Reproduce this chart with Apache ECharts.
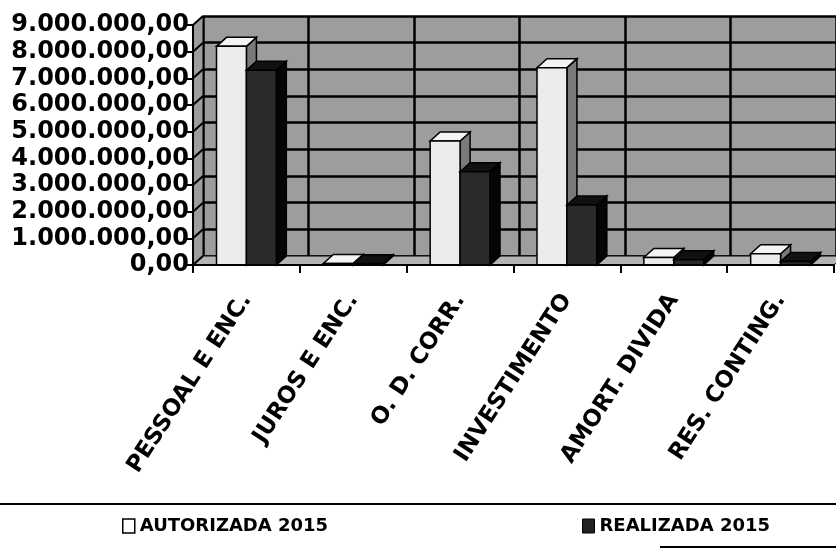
<!DOCTYPE html>
<html>
<head>
<meta charset="utf-8">
<script src="https://cdn.jsdelivr.net/npm/echarts@6/dist/echarts.min.js"></script>
<style>
html,body{margin:0;padding:0;background:#fff;}
#chart{width:836px;height:548px;}
</style>
</head>
<body>
<div id="chart"></div>
<script>
// ---- data ----
var categories = ['PESSOAL E ENC.', 'JUROS E ENC.', 'O. D. CORR.', 'INVESTIMENTO', 'AMORT. DIVIDA', 'RES. CONTING.'];
var autorizada2015 = [8200000, 60000, 4650000, 7400000, 280000, 420000];
var realizada2015 = [7300000, 50000, 3500000, 2250000, 200000, 130000];
var yTicks = [0, 1000000, 2000000, 3000000, 4000000, 5000000, 6000000, 7000000, 8000000, 9000000];
var seriesNames = ['AUTORIZADA 2015', 'REALIZADA 2015'];

// ---- styling / geometry ----
var DX = 10, DY = -9;          // 3D depth offset
var FONT = 'DejaVu Sans';
var WALL = '#9d9d9d';

function fmtBR(v) {
  return Math.round(v).toString().replace(/\B(?=(\d{3})+(?!\d))/g, '.') + ',00';
}

function boxRender(isFirst, colors) {
  return function (params, api) {
    var idx = api.value(0), val = api.value(1);
    var top = api.coord([idx, val]);
    var base = api.coord([idx, 0]);
    var band = api.size([1, 0])[0];
    var w = band * 0.28;
    var x0 = isFirst ? top[0] - w : top[0];
    var x1 = x0 + w;
    var yT = top[1], yB = base[1];
    var stroke = {stroke: '#000', lineWidth: 1.5};
    return {
      type: 'group',
      children: [
        {type: 'polygon', shape: {points: [[x1, yT], [x1, yB], [x1 + DX, yB + DY], [x1 + DX, yT + DY]]},
          style: Object.assign({fill: colors.side}, stroke)},
        {type: 'polygon', shape: {points: [[x0, yT], [x1, yT], [x1 + DX, yT + DY], [x0 + DX, yT + DY]]},
          style: Object.assign({fill: colors.top}, stroke)},
        {type: 'rect', shape: {x: x0, y: yT, width: w, height: yB - yT},
          style: Object.assign({fill: colors.front}, stroke)}
      ]
    };
  };
}

var chart = echarts.init(document.getElementById('chart'));
var option = {
  backgroundColor: '#ffffff',
  animation: false,
  grid: [
    {left: 193, right: 2, top: 25, bottom: 283},
    {left: 193 + DX, right: 2 - DX, top: 25 + DY, bottom: 283 - DY, show: true, backgroundColor: WALL, borderWidth: 0}
  ],
  xAxis: [
    {
      type: 'category', gridIndex: 0, data: categories,
      axisLine: {show: true, lineStyle: {color: '#000', width: 2}},
      axisTick: {show: true, interval: 0, length: 8, lineStyle: {color: '#000', width: 2}},
      axisLabel: {interval: 0, rotate: 57, margin: 31, color: '#000', fontFamily: FONT, fontWeight: 'bold', fontSize: 23},
      splitLine: {show: false}, z: 5
    },
    {
      type: 'category', gridIndex: 1, data: categories,
      axisLine: {show: false}, axisTick: {show: false, interval: 0}, axisLabel: {show: false, interval: 0},
      splitLine: {show: true, interval: 0, lineStyle: {color: '#000', width: 2.5}}
    }
  ],
  yAxis: [
    {
      type: 'value', gridIndex: 0, min: 0, max: 9000000, interval: 1000000,
      axisLine: {show: true, lineStyle: {color: '#000', width: 2}},
      axisTick: {show: true, length: 8, lineStyle: {color: '#000', width: 2}},
      axisLabel: {formatter: fmtBR, margin: 4, color: '#000', fontFamily: FONT, fontWeight: 'bold', fontSize: 24},
      splitLine: {show: false}, z: 5
    },
    {
      type: 'value', gridIndex: 1, min: 0, max: 9000000, interval: 1000000,
      axisLine: {show: false}, axisTick: {show: false}, axisLabel: {show: false},
      splitLine: {show: true, lineStyle: {color: '#000', width: 2.5}}
    }
  ],
  legend: [
    {
      left: 122, top: 517, padding: 0, itemWidth: 12, itemHeight: 14, itemGap: 4, selectedMode: false,
      data: [{name: seriesNames[0], icon: 'rect', itemStyle: {color: '#fff', borderColor: '#000', borderWidth: 1.5}}],
      textStyle: {color: '#000', fontFamily: FONT, fontWeight: 'bold', fontSize: 18}
    },
    {
      left: 582, top: 517, padding: 0, itemWidth: 12, itemHeight: 14, itemGap: 4, selectedMode: false,
      data: [{name: seriesNames[1], icon: 'rect', itemStyle: {color: '#222', borderColor: '#000', borderWidth: 1}}],
      textStyle: {color: '#000', fontFamily: FONT, fontWeight: 'bold', fontSize: 18}
    }
  ],
  graphic: [
    {type: 'line', shape: {x1: 0, y1: 504, x2: 836, y2: 504}, style: {stroke: '#000', lineWidth: 2}},
    {type: 'line', shape: {x1: 660, y1: 547, x2: 836, y2: 547}, style: {stroke: '#000', lineWidth: 2}}
  ],
  series: [
    {
      type: 'custom', xAxisIndex: 0, yAxisIndex: 0, silent: true, z: 1,
      data: [[0, 0]],
      renderItem: function (params, api) {
        var cs = params.coordSys;
        var x = cs.x, y = cs.y, w = cs.width, h = cs.height;
        var children = [
          {type: 'polygon', shape: {points: [[x, y + h], [x + w, y + h], [x + w + DX, y + h + DY], [x + DX, y + h + DY]]},
            style: {fill: '#b4b4b4', stroke: '#000', lineWidth: 1}},
          {type: 'polygon', shape: {points: [[x, y + h], [x, y], [x + DX, y + DY], [x + DX, y + h + DY]]},
            style: {fill: WALL, stroke: '#000', lineWidth: 1}}
        ];
        yTicks.forEach(function (v) {
          var p = api.coord([0, v]);
          children.push({type: 'line', shape: {x1: x, y1: p[1], x2: x + DX, y2: p[1] + DY},
            style: {stroke: '#000', lineWidth: 2}});
        });
        return {type: 'group', children: children};
      }
    },
    {
      name: seriesNames[0], type: 'custom', xAxisIndex: 0, yAxisIndex: 0, z: 3,
      itemStyle: {color: '#fff', borderColor: '#000'},
      encode: {x: 0, y: 1},
      data: categories.map(function (c, i) { return [i, autorizada2015[i]]; }),
      renderItem: boxRender(true, {front: '#ececec', top: '#f4f4f4', side: '#7a7a7a'})
    },
    {
      name: seriesNames[1], type: 'custom', xAxisIndex: 0, yAxisIndex: 0, z: 4,
      itemStyle: {color: '#222', borderColor: '#000'},
      encode: {x: 0, y: 1},
      data: categories.map(function (c, i) { return [i, realizada2015[i]]; }),
      renderItem: boxRender(false, {front: '#2a2a2a', top: '#111', side: '#050505'})
    }
  ]
};
chart.setOption(option);
</script>
</body>
</html>
